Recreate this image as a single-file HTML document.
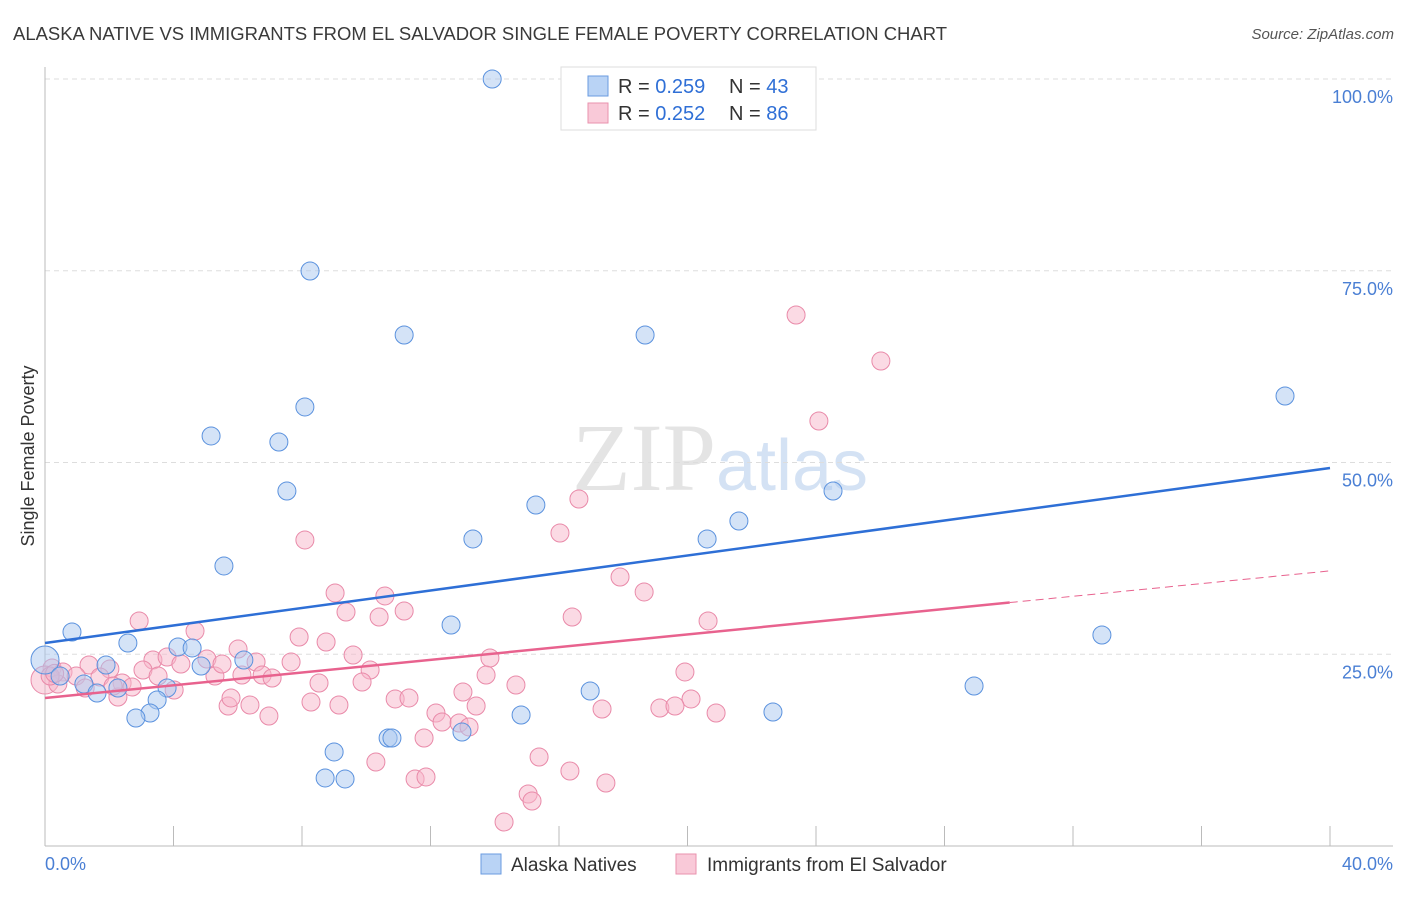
<!DOCTYPE html>
<html><head><meta charset="utf-8"><style>
body{margin:0;background:#fff;font-family:"Liberation Sans",sans-serif}
svg text{font-family:"Liberation Sans",sans-serif}
</style></head><body>
<svg id="chart" width="1406" height="892" xmlns="http://www.w3.org/2000/svg">
<text x="13" y="40" font-size="18" fill="#3a3a3a" textLength="934" lengthAdjust="spacingAndGlyphs">ALASKA NATIVE VS IMMIGRANTS FROM EL SALVADOR SINGLE FEMALE POVERTY CORRELATION CHART</text>
<text x="1394" y="39" font-size="15" fill="#555" text-anchor="end" font-style="italic">Source: ZipAtlas.com</text>
<text x="720" y="490" font-size="96" text-anchor="middle" fill="#e4e4e4"><tspan font-family="Liberation Serif">ZIP</tspan><tspan fill="#d4e2f4" font-size="72">atlas</tspan></text>
<text transform="translate(34,456) rotate(-90)" font-size="18" fill="#333" text-anchor="middle">Single Female Poverty</text>
<g id="grid"></g><g id="ticks"></g><g id="points"></g><g id="lines"></g>
<g>
<rect x="561" y="67" width="255" height="63" fill="#fff" stroke="#ddd"/>
<rect x="588" y="76" width="20" height="20" fill="#b9d3f5" stroke="#6a9be0"/>
<rect x="588" y="103" width="20" height="20" fill="#f9c9d8" stroke="#e992ae"/>
<text x="618" y="93" font-size="20" fill="#333">R = <tspan fill="#2f6fd6">0.259</tspan></text>
<text x="729" y="93" font-size="20" fill="#333">N = <tspan fill="#2f6fd6">43</tspan></text>
<text x="618" y="120" font-size="20" fill="#333">R = <tspan fill="#2f6fd6">0.252</tspan></text>
<text x="729" y="120" font-size="20" fill="#333">N = <tspan fill="#2f6fd6">86</tspan></text>
</g>
<g>
<rect x="481" y="854" width="20" height="20" fill="#b9d3f5" stroke="#6a9be0"/>
<text x="511" y="871" font-size="19" fill="#333">Alaska Natives</text>
<rect x="676" y="854" width="20" height="20" fill="#f9c9d8" stroke="#e992ae"/>
<text x="707" y="871" font-size="19" fill="#333">Immigrants from El Salvador</text>
</g>
<text x="45" y="870" font-size="18" fill="#4a7fd4">0.0%</text>
<text x="1393" y="870" font-size="18" fill="#4a7fd4" text-anchor="end">40.0%</text>
</svg>
<script>
const yTicks=[25,50,75,100];
const yTickLabels=["25.0%","50.0%","75.0%","100.0%"];
const xTicks=[0,4,8,12,16,20,24,28,32,36,40];
const blueX=[13.92,8.25,11.18,18.68,38.60,8.09,5.17,7.28,7.53,24.53,15.28,21.60,20.61,13.32,5.57,12.64,32.90,0.84,2.58,4.14,4.58,0,1.90,4.86,6.19,0.47,1.21,2.27,3.80,1.62,28.92,16.97,3.49,3.27,2.83,14.82,22.66,9.00,10.68,10.80,12.98,8.72,9.34];
const blueY=[100,74.97,66.62,66.62,58.67,57.24,53.46,52.67,46.28,46.28,44.46,42.37,40.03,40.03,36.51,28.81,27.51,27.90,26.47,25.95,25.82,24.25,23.60,23.47,24.25,22.16,21.12,20.60,20.60,19.95,20.86,20.21,19.04,17.34,16.69,17.08,17.47,12.26,14.08,14.08,14.86,8.87,8.74];
const pinkX=[23.38,26.02,24.09,16.62,16.03,8.09,17.90,18.65,9.03,10.58,2.93,9.37,11.18,10.40,16.41,20.64,4.67,7.91,8.75,6.01,9.59,13.85,3.36,3.80,5.04,6.57,1.37,4.23,7.66,2.02,3.05,10.12,13.73,19.92,0.22,0.56,5.29,6.13,6.76,5.51,3.52,1.71,0.97,7.07,2.40,0,0.40,2.71,4.02,8.53,9.87,14.66,13.01,20.11,2.27,8.28,9.15,10.90,11.33,13.42,5.70,6.38,17.34,19.14,19.61,20.89,6.97,12.17,12.36,12.89,13.20,11.80,15.38,10.30,16.34,11.52,11.86,17.46,15.04,15.16,14.29,2.12,1.25,0.16,5.79,0.3];
const pinkY=[69.23,63.23,55.41,45.24,40.81,39.90,35.07,33.12,32.99,32.60,29.34,30.51,30.64,29.86,29.86,29.34,28.03,27.25,26.60,25.68,24.90,24.51,24.25,24.64,24.38,23.99,23.60,23.73,23.99,23.08,22.95,22.95,22.29,22.69,23.21,22.69,22.16,22.29,22.29,23.73,22.16,22.03,22.16,21.90,21.25,21.64,21.12,20.73,20.34,21.25,21.38,20.99,20.08,19.17,19.43,18.77,18.38,19.17,19.30,18.25,18.25,18.38,17.86,17.99,18.25,17.34,16.95,17.34,16.17,16.04,15.52,14.08,11.60,10.95,9.78,8.74,9.00,8.21,6.78,5.87,3.13,20.86,20.60,22.16,19.30,22.5];
const blueTrend=[26.47,49.28];
const pinkTrend=[19.30,35.87];
const pinkSolidEnd=30.03;
const X=v=>45+v/40*1285, Y=v=>846-v/100*767;
const NS="http://www.w3.org/2000/svg";
function mk(t,a,p){const e=document.createElementNS(NS,t);for(const k in a)e.setAttribute(k,a[k]);p.appendChild(e);return e;}
const grid=document.getElementById('grid'),ticks=document.getElementById('ticks'),pts=document.getElementById('points'),lines=document.getElementById('lines');
yTicks.forEach((v,i)=>{
 const l=mk('line',{x1:45,x2:1393,y1:Y(v),y2:Y(v),stroke:'#ddd','stroke-dasharray':'5,4'},grid);
 
 
 const t=mk('text',{x:1393,y:Y(v)+24,'font-size':18,fill:'#4a7fd4','text-anchor':'end'},ticks);
 t.textContent=yTickLabels[i];
 
 
});
const ax=mk('line',{x1:45,x2:1393,y1:846,y2:846,stroke:'#bbb'},ticks);


const ay=mk('line',{x1:45,x2:45,y1:67,y2:846,stroke:'#bbb'},ticks);


xTicks.forEach(v=>{
 const l=mk('line',{x1:X(v),x2:X(v),y1:826,y2:846,stroke:'#bbb'},ticks);
 
 
});
function dots(xs,ys,fill,stroke,name){
 xs.forEach((x,i)=>{
  const big=(x<0.1);
  const c=mk('circle',{cx:X(x),cy:Y(ys[i]),r:big?14:9,fill:fill,'fill-opacity':0.5,stroke:stroke,'stroke-width':1},pts);
  
  
 });
}
dots(pinkX,pinkY,'#f7b6ca','#e98aa9','point-el-salvador');
dots(blueX,blueY,'#a9c8f0','#5b92de','point-alaska-native');
const bl=mk('line',{x1:X(0),y1:Y(blueTrend[0]),x2:X(40),y2:Y(blueTrend[1]),stroke:'#2e6fd6','stroke-width':2.5},lines);


const ps=pinkTrend[0]+(pinkTrend[1]-pinkTrend[0])*pinkSolidEnd/40;
const pl=mk('line',{x1:X(0),y1:Y(pinkTrend[0]),x2:X(pinkSolidEnd),y2:Y(ps),stroke:'#e8628e','stroke-width':2.5},lines);


const pd=mk('line',{x1:X(pinkSolidEnd),y1:Y(ps),x2:X(40),y2:Y(pinkTrend[1]),stroke:'#e8628e','stroke-width':1,'stroke-dasharray':'8,5'},lines);


</script>
</body></html>
